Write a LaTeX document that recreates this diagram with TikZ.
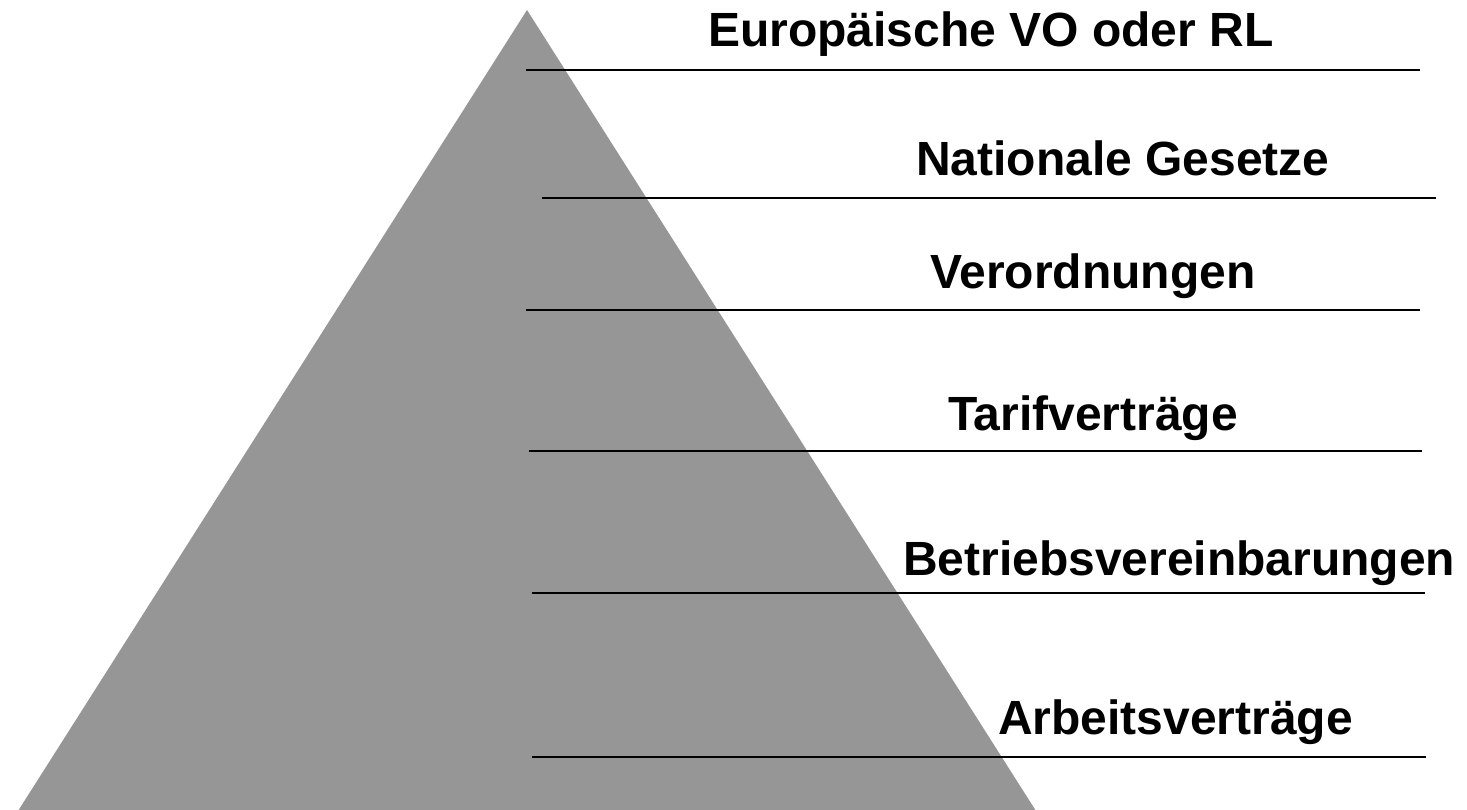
\documentclass[tikz,border=0pt]{standalone}
\usepackage{fontspec}
\setmainfont{Liberation Sans}
\usepackage{tikz}

\begin{document}
\begin{tikzpicture}[x=1pt,y=-1pt,line cap=rect,
	lbl/.style={inner sep=0, outer sep=0, black, anchor=base west, font=\fontsize{48pt}{48pt}\bfseries\selectfont},
	sep/.style={line width=2.0pt, black}]
						\definecolor{pyrgray}{RGB}{150, 150, 150}
						\useasboundingbox (0.0,0.0) rectangle (1467.0,810.0);
						% pyramid
						\fill [pyrgray]  (527.0,10.0) -- (1036.0,811.0) -- (18.0,811.0) -- cycle;
						% separator lines
						\draw [sep]  (527.0,70.0) -- (1419.0,70.0) ;
						\draw [sep]  (543.0,198.0) -- (1435.0,198.0) ;
						\draw [sep]  (527.0,310.0) -- (1419.0,310.0) ;
						\draw [sep]  (530.0,451.0) -- (1421.0,451.0) ;
						\draw [sep]  (533.0,593.0) -- (1424.0,593.0) ;
						\draw [sep]  (533.0,757.0) -- (1425.0,757.0) ;
						% labels
						\node[lbl] (euro) at (708.0,47.0) {Europäische VO oder RL};
						\node[lbl] (natgesetz) at (916.0,176.0) {Nationale Gesetze};
						\node[lbl] (verord) at (930.0,289.0) {Verordnungen};
						\node[lbl] (tarif) at (948.0,430.0) {Tarifverträge};
						\node[lbl] (betrieb) at (903.0,575.0) {Betriebsvereinbarungen};
						\node[lbl] (arbeit) at (998.0,734.0) {Arbeitsverträge};
\end{tikzpicture}
\end{document}
